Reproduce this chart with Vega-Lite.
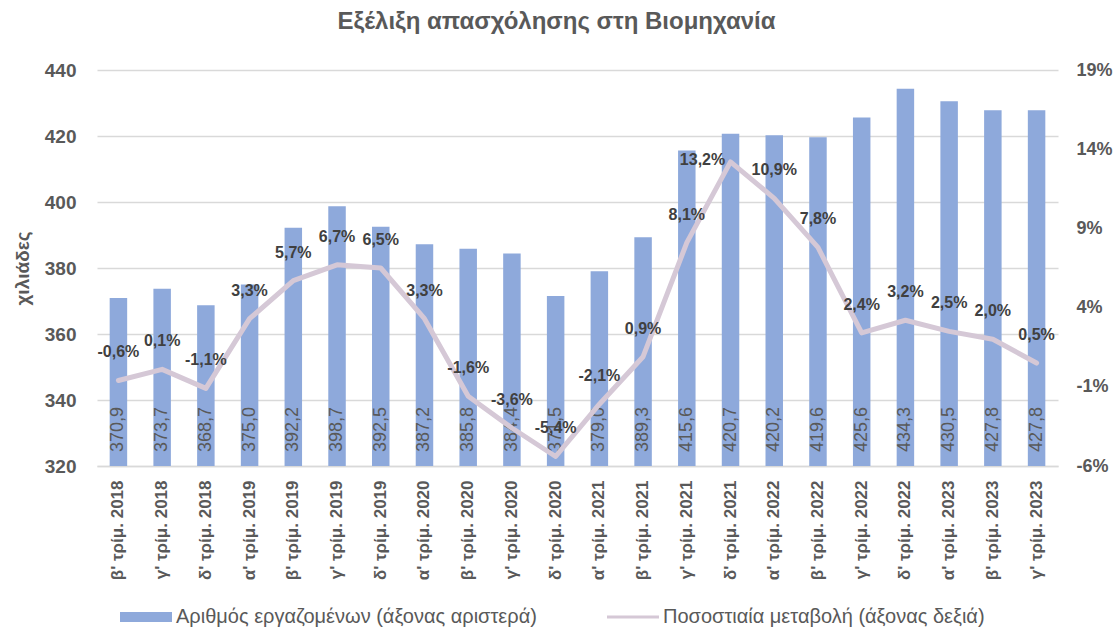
{
  "$schema": "https://vega.github.io/schema/vega-lite/v6.json",
  "width": 961,
  "height": 396,
  "autosize": {"type": "none"},
  "padding": {"left": 97, "top": 70, "right": 57, "bottom": 162},
  "background": "white",
  "config": {
    "locale": {"number": {"decimal": ",", "thousands": ".", "grouping": [3], "currency": ["", " €"], "minus": "-"}},
    "font": "Liberation Sans",
    "view": {"stroke": null},
    "axis": {"labelFont": "Liberation Sans", "titleFont": "Liberation Sans", "labelColor": "#595959", "titleColor": "#595959", "domain": false, "ticks": false, "grid": false}
  },
  "title": {"text": "Εξέλιξη απασχόλησης στη Βιομηχανία", "fontSize": 24, "fontWeight": "bold", "color": "#595959", "font": "Liberation Sans", "anchor": "middle", "dx": -21, "offset": 27},
  "data": {"values": [
    {"q": "β' τρίμ. 2018", "emp": 370.9, "pct": -0.006},
    {"q": "γ' τρίμ. 2018", "emp": 373.7, "pct": 0.001},
    {"q": "δ' τρίμ. 2018", "emp": 368.7, "pct": -0.011},
    {"q": "α' τρίμ. 2019", "emp": 375.0, "pct": 0.033},
    {"q": "β' τρίμ. 2019", "emp": 392.2, "pct": 0.057},
    {"q": "γ' τρίμ. 2019", "emp": 398.7, "pct": 0.067},
    {"q": "δ' τρίμ. 2019", "emp": 392.5, "pct": 0.065},
    {"q": "α' τρίμ. 2020", "emp": 387.2, "pct": 0.033},
    {"q": "β' τρίμ. 2020", "emp": 385.8, "pct": -0.016},
    {"q": "γ' τρίμ. 2020", "emp": 384.4, "pct": -0.036},
    {"q": "δ' τρίμ. 2020", "emp": 371.5, "pct": -0.054},
    {"q": "α' τρίμ. 2021", "emp": 379.0, "pct": -0.021},
    {"q": "β' τρίμ. 2021", "emp": 389.3, "pct": 0.009},
    {"q": "γ' τρίμ. 2021", "emp": 415.6, "pct": 0.081},
    {"q": "δ' τρίμ. 2021", "emp": 420.7, "pct": 0.132},
    {"q": "α' τρίμ. 2022", "emp": 420.2, "pct": 0.109},
    {"q": "β' τρίμ. 2022", "emp": 419.6, "pct": 0.078},
    {"q": "γ' τρίμ. 2022", "emp": 425.6, "pct": 0.024},
    {"q": "δ' τρίμ. 2022", "emp": 434.3, "pct": 0.032},
    {"q": "α' τρίμ. 2023", "emp": 430.5, "pct": 0.025},
    {"q": "β' τρίμ. 2023", "emp": 427.8, "pct": 0.020},
    {"q": "γ' τρίμ. 2023", "emp": 427.8, "pct": 0.005}
  ]},
  "encoding": {
    "x": {"field": "q", "type": "nominal", "sort": null,
      "scale": {"paddingInner": 0.6, "paddingOuter": 0.29},
      "axis": {"title": null, "labelAngle": -90, "labelPadding": 14, "labelFontSize": 17, "labelFontWeight": "bold", "domain": true, "domainColor": "#D9D9D9", "domainWidth": 1.5}}
  },
  "layer": [
    {
      "encoding": {
        "y": {"field": "emp", "type": "quantitative",
          "scale": {"domain": [320, 440], "nice": false, "zero": false},
          "axis": {"orient": "left", "values": [320, 340, 360, 380, 400, 420, 440], "grid": true, "gridColor": "#D9D9D9", "gridWidth": 1.5, "labelPadding": 21, "labelFontSize": 19, "labelFontWeight": "bold", "title": "χιλιάδες", "titleFontSize": 19, "titleFontWeight": "bold", "titlePadding": 12}}
      },
      "layer": [
        {"mark": {"type": "bar"},
          "encoding": {
            "y2": {"datum": 320},
            "color": {"datum": "Αριθμός εργαζομένων (άξονας αριστερά)", "type": "nominal",
              "scale": {"domain": ["Αριθμός εργαζομένων (άξονας αριστερά)", "Ποσοστιαία μεταβολή (άξονας δεξιά)"], "range": ["#8EA9DB", "#D5C8D6"]},
              "legend": {"orient": "none", "legendX": 23, "legendY": 521, "direction": "horizontal", "title": null, "padding": 0,
                "symbolType": "M-1,-0.19H1V0.19H-1Z", "symbolSize": 2704, "symbolStrokeWidth": 0,
                "labelFont": "Liberation Sans", "labelFontSize": 20, "labelColor": "#595959", "labelOffset": 4, "labelLimit": 0, "columnPadding": 70,
                "encode": {"symbols": {"update": {
                  "shape": {"signal": "datum.value === 'Αριθμός εργαζομένων (άξονας αριστερά)' ? 'M-1,-0.19H1V0.19H-1Z' : 'M-1,-0.06H1V0.06H-1Z'"},
                  "fill": {"scale": "color", "field": "value"},
                  "strokeWidth": {"value": 0}
                }}}}
            }
          }
        },
        {"mark": {"type": "text", "angle": 270, "align": "left", "baseline": "middle", "dx": 14, "fontSize": 18, "color": "#595959"},
          "encoding": {
            "y": {"datum": 320, "type": "quantitative"},
            "text": {"field": "emp", "type": "quantitative", "format": ".1f"}
          }
        }
      ]
    },
    {
      "encoding": {
        "y": {"field": "pct", "type": "quantitative",
          "scale": {"domain": [-0.06, 0.19], "nice": false, "zero": false},
          "axis": {"orient": "right", "values": [-0.06, -0.01, 0.04, 0.09, 0.14, 0.19], "format": ".0%", "labelPadding": 18, "labelFontSize": 18, "labelFontWeight": "bold", "title": null}}
      },
      "layer": [
        {"mark": {"type": "line", "strokeWidth": 5, "strokeCap": "round", "strokeJoin": "round"},
          "encoding": {
            "color": {"datum": "Ποσοστιαία μεταβολή (άξονας δεξιά)", "type": "nominal"}
          }
        },
        {"transform": [{"filter": "datum.pct < 0.13"}],
          "mark": {"type": "text", "dy": -28, "fontSize": 16, "fontWeight": "bold", "color": "#404040", "baseline": "middle"},
          "encoding": {"text": {"field": "pct", "type": "quantitative", "format": ".1%"}}
        },
        {"transform": [{"filter": "datum.pct >= 0.13"}],
          "mark": {"type": "text", "dx": -28, "dy": -2, "fontSize": 16, "fontWeight": "bold", "color": "#404040", "baseline": "middle"},
          "encoding": {"text": {"field": "pct", "type": "quantitative", "format": ".1%"}}
        }
      ]
    }
  ],
  "resolve": {"scale": {"y": "independent"}, "axis": {"y": "independent"}}
}
